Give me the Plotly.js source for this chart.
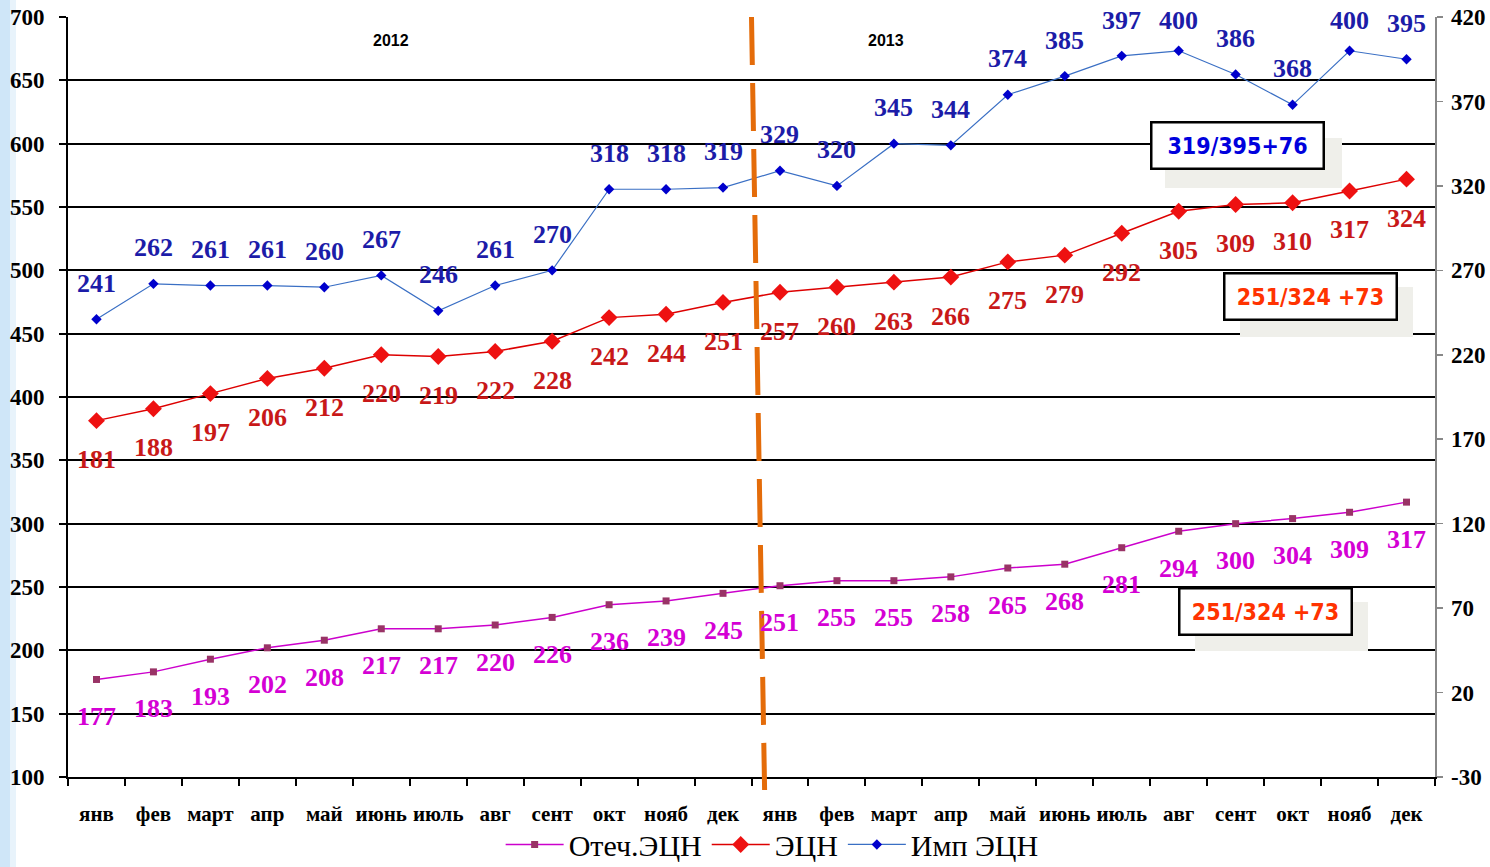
<!DOCTYPE html>
<html>
<head>
<meta charset="utf-8">
<script src="https://cdn.plot.ly/plotly-3.0.1.min.js"></script>
<style>
  html, body { margin: 0; padding: 0; background: #ffffff; }
  #chart { width: 1490px; height: 867px; }
</style>
</head>
<body>
<div id="chart"></div>
<script>
// ---- data ----
const months = ['янв','фев','март','апр','май','июнь','июль','авг','сент','окт','нояб','дек'];
const years = ['2012','2013'];
const seriesNames = ['Отеч.ЭЦН','ЭЦН','Имп ЭЦН'];
const otech = [177,183,193,202,208,217,217,220,226,236,239,245, 251,255,255,258,265,268,281,294,300,304,309,317];
const ecn   = [181,188,197,206,212,220,219,222,228,242,244,251, 257,260,263,266,275,279,292,305,309,310,317,324];
const imp   = [241,262,261,261,260,267,246,261,270,318,318,319, 329,320,345,344,374,385,397,400,386,368,400,395];
const boxTexts = ['319/395+76','251/324 +73','251/324 +73'];

// ---- axis ranges (layout) ----
const leftRange = [100, 700];
const rightRange = [-30, 420];
const plotH = 760;

// ---- build ----
const ticktext = years.flatMap(() => months);
const idx = ticktext.map((_, i) => i);
const rightTicks = [];
for (let v = rightRange[0]; v <= rightRange[1]; v += 50) rightTicks.push(v);

const serif = '"Liberation Serif", "Times New Roman", serif';
const narrow = '"Liberation Sans Narrow", "Arial Narrow", "DejaVu Sans Condensed", sans-serif';

const traces = [
  { x: idx, y: otech, name: seriesNames[0], yaxis: 'y', mode: 'lines+markers',
    line: { color: '#cc00cc', width: 1.5 },
    marker: { symbol: 'square', size: 7, color: '#993366' } },
  { x: idx, y: ecn, name: seriesNames[1], yaxis: 'y2', mode: 'lines+markers',
    line: { color: '#dd0000', width: 1.5 },
    marker: { symbol: 'diamond', size: 13, color: '#ee1111' } },
  { x: idx, y: imp, name: seriesNames[2], yaxis: 'y2', mode: 'lines+markers',
    line: { color: '#3a6fc4', width: 1.2 },
    marker: { symbol: 'diamond', size: 8, color: '#0000cc' } }
];

const annotations = [];
const labelSets = [
  { data: otech, yref: 'y',  color: '#d400d4', shift: -37 },
  { data: ecn,   yref: 'y2', color: '#c81818', shift: -39 },
  { data: imp,   yref: 'y2', color: '#1c1ca8', shift: 36 }
];
labelSets.forEach(s => {
  s.data.forEach((v, i) => {
    let sh = s.shift;
    if (s.yref === 'y2' && sh > 0) {
      // keep the label inside the picture near the top edge
      const pxFromTop = (rightRange[1] - v) / (rightRange[1] - rightRange[0]) * plotH;
      sh = Math.min(sh, Math.round(pxFromTop - 4));
    }
    annotations.push({ x: i, y: v, xref: 'x', yref: s.yref, text: '<b>' + v + '</b>', showarrow: false,
      xanchor: 'center', yanchor: 'middle',
      yshift: sh, font: { family: serif, size: 26, color: s.color } });
  });
});

// year headers
const yearPos = [0.2363, 0.5984];
years.forEach((yr, k) => {
  annotations.push({ x: yearPos[k], y: 0.9697, xref: 'paper', yref: 'paper', text: '<b>' + yr + '</b>',
    xanchor: 'center', yanchor: 'middle',
    showarrow: false, font: { family: '"Liberation Sans", Arial, sans-serif', size: 16, color: '#000' } });
});

// boxes
const boxes = [
  { x: 0.8555, y: 0.8303, color: '#0000dd', sx0: 1165, sx1: 1342, sy0: 138, sy1: 188 },
  { x: 0.9089, y: 0.6322, color: '#ff3300', sx0: 1240, sx1: 1413, sy0: 287, sy1: 337 },
  { x: 0.8760, y: 0.2178, color: '#ff3300', sx0: 1195, sx1: 1368, sy0: 602, sy1: 651 }
];
const shapes = [];
// left light-blue strip of the slide background
shapes.push({ type: 'rect', xref: 'paper', yref: 'paper', x0: -68/1367, x1: -58/1367, y0: -90/760, y1: 1 + 17/760,
  fillcolor: '#cfe6f8', line: { width: 0 }, layer: 'below' });
shapes.push({ type: 'rect', xref: 'paper', yref: 'paper', x0: -58/1367, x1: -52/1367, y0: -90/760, y1: 1 + 17/760,
  fillcolor: '#e8f3fb', line: { width: 0 }, layer: 'below' });

boxes.forEach((b, k) => {
  shapes.push({ type: 'rect', xref: 'paper', yref: 'paper',
    x0: (b.sx0 - 68) / 1367, x1: (b.sx1 - 68) / 1367, y0: (777 - b.sy1) / 760, y1: (777 - b.sy0) / 760,
    fillcolor: '#efefea', line: { width: 0 }, layer: 'above' });
  annotations.push({ x: b.x, y: b.y, xref: 'paper', yref: 'paper', text: '<b>' + boxTexts[k] + '</b>',
    xanchor: 'center', yanchor: 'middle',
    showarrow: false, width: 168, height: 42, bgcolor: '#ffffff', bordercolor: '#000000', borderwidth: 2.5,
    font: { family: narrow, size: 23, color: b.color } });
});

// orange dashed separator between 2012 and 2013
shapes.push({ type: 'line', xref: 'x', yref: 'paper', x0: 11.5, x1: 11.73, y0: 1, y1: -13/760,
  line: { color: '#e46c0a', width: 5, dash: '48px,18px' }, layer: 'above' });

const layout = {
  width: 1490, height: 867,
  margin: { l: 68, r: 55, t: 17, b: 90 },
  paper_bgcolor: '#ffffff', plot_bgcolor: '#ffffff',
  showlegend: true,
  legend: { orientation: 'h', xref: 'container', yref: 'container', x: 0.336, xanchor: 'left', y: 0.026, yanchor: 'middle',
    itemwidth: 58,
    font: { family: serif, size: 30, color: '#000' }, bgcolor: 'rgba(0,0,0,0)' },
  xaxis: {
    range: [-0.5, 23.5], tickmode: 'array', tickvals: idx, ticktext: ticktext, tickangle: 0,
    ticks: '', showgrid: false, zeroline: false,
    showline: true, linecolor: '#000', linewidth: 2,
    tickfont: { family: serif, size: 21, color: '#000', weight: 'bold' },
    ticklabelstandoff: 17,
    minor: { tick0: -0.5, dtick: 1, ticks: 'outside', ticklen: 7, tickwidth: 2, tickcolor: '#000', showgrid: false }
  },
  yaxis: {
    range: leftRange, tick0: leftRange[0], dtick: 50, showgrid: true, gridcolor: '#000', gridwidth: 2,
    zeroline: false, showline: true, linecolor: '#000', linewidth: 2,
    ticks: 'outside', ticklen: 7, tickwidth: 2, tickcolor: '#000',
    tickfont: { family: serif, size: 23, color: '#000', weight: 'bold' }, ticklabelstandoff: 10
  },
  yaxis2: {
    overlaying: 'y', side: 'right', range: rightRange, tickmode: 'array',
    tickvals: rightTicks, ticktext: rightTicks.map(v => String(v)),
    showgrid: false, zeroline: false, showline: true, linecolor: '#888', linewidth: 1.5,
    ticks: 'outside', ticklen: 6, tickwidth: 1.5, tickcolor: '#888',
    tickfont: { family: serif, size: 23, color: '#000', weight: 'bold' }, ticklabelstandoff: 4
  },
  annotations: annotations,
  shapes: shapes
};

Plotly.newPlot('chart', traces, layout, { displayModeBar: false, staticPlot: true });
</script>
</body>
</html>
